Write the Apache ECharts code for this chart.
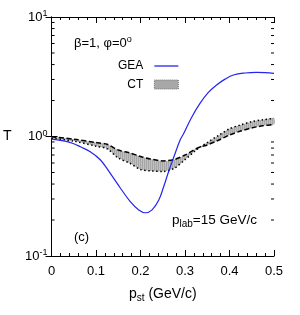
<!DOCTYPE html>
<html><head><meta charset="utf-8">
<script src="https://cdn.jsdelivr.net/npm/echarts@6/dist/echarts.min.js"></script>
<style>html,body{margin:0;padding:0;background:#fff}#c{width:300px;height:315px}</style>
</head><body><div id="c"></div>
<script>
// GEA curve (blue)
const gX = [0, 0.03, 0.05, 0.065, 0.087, 0.11, 0.132, 0.155, 0.177, 0.196, 0.211, 0.226, 0.241, 0.252, 0.263, 0.274, 0.289, 0.297, 0.315, 0.334, 0.352, 0.371, 0.39, 0.409, 0.435, 0.461, 0.48, 0.5];
const gT = [0.95, 0.915, 0.87, 0.82, 0.746, 0.636, 0.492, 0.369, 0.285, 0.243, 0.230, 0.243, 0.294, 0.38, 0.507, 0.66, 0.935, 1.06, 1.45, 1.9, 2.33, 2.7, 3.02, 3.27, 3.4, 3.44, 3.43, 3.38];
// CT band boundaries (dashed and dotted curves)
const ctX = [0, 0.05, 0.1, 0.125, 0.15, 0.175, 0.2, 0.225, 0.25, 0.275, 0.3, 0.325, 0.335, 0.35, 0.375, 0.4, 0.425, 0.45, 0.475, 0.5];
const ctDash = [0.996, 0.95, 0.89, 0.86, 0.77, 0.73, 0.68, 0.645, 0.625, 0.64, 0.70, 0.79, 0.82, 0.85, 0.93, 1.03, 1.11, 1.18, 1.23, 1.26];
const ctDot = [0.966, 0.915, 0.83, 0.79, 0.66, 0.60, 0.53, 0.515, 0.51, 0.54, 0.64, 0.77, 0.82, 0.89, 1.02, 1.16, 1.25, 1.33, 1.38, 1.42];
// axes
const xMin = 0, xMax = 0.5, xStep = 0.1;
const yMin = 0.1, yMax = 10;
const yMinorTicks = [0.2, 0.3, 0.4, 0.5, 0.6, 0.7, 0.8, 0.9, 2, 3, 4, 5, 6, 7, 8, 9];

const FONT = '"Liberation Sans", Arial, Helvetica, sans-serif';
const chart = echarts.init(document.getElementById('c'), null, {renderer: 'canvas'});

// hatched grey pattern
const pc = document.createElement('canvas');
pc.width = 2; pc.height = 2;
const pctx = pc.getContext('2d');
pctx.fillStyle = '#a6a6a6'; pctx.fillRect(0, 0, 1, 2);
pctx.fillStyle = '#c0c0c0'; pctx.fillRect(1, 0, 1, 2);
const hatch = {image: pc, repeat: 'repeat'};

const bandData = ctX.map((x, i) => [x, Math.max(ctDash[i], ctDot[i]), Math.min(ctDash[i], ctDot[i])]);

const axisLineStyle = {color: '#000', width: 1};
const option = {
  animation: false,
  grid: {left: 51, right: 26, top: 17, bottom: 59, containLabel: false},
  legend: {
    orient: 'vertical', right: 116, top: 54, align: 'right',
    itemWidth: 24, itemHeight: 9, itemGap: 4.5,
    textStyle: {fontFamily: FONT, fontSize: 12, color: '#000', lineHeight: 14, padding: [0, 6, 0, 0]},
    data: [
      {name: 'GEA', itemStyle: {opacity: 0}, lineStyle: {width: 1.3}},
      {name: 'CT', icon: 'rect', itemStyle: {color: '#a8a8a8', borderColor: '#777', borderWidth: 1, borderType: 'dotted'}}
    ],
    selectedMode: false
  },
  xAxis: [{
    type: 'value', min: xMin, max: xMax, interval: xStep, position: 'bottom',
    axisLine: {lineStyle: axisLineStyle},
    axisTick: {inside: true, length: 6, lineStyle: {color: '#000'}},
    minorTick: {show: true, splitNumber: 5, length: 3, lineStyle: {color: '#000'}},
    splitLine: {show: false},
    axisLabel: {fontFamily: FONT, fontSize: 13, color: '#000', margin: 9},
    name: '{p|p}{s|st}{p| (GeV/c)}', nameLocation: 'middle', nameGap: 29,
    nameTextStyle: {rich: {
      p: {fontFamily: FONT, fontSize: 14, color: '#000', lineHeight: 18},
      s: {fontFamily: FONT, fontSize: 10, color: '#000', lineHeight: 18, verticalAlign: 'bottom', padding: [6, 0, 0, 0]}
    }}
  }, {
    type: 'value', min: xMin, max: xMax, interval: xStep, position: 'top',
    axisLine: {lineStyle: axisLineStyle},
    axisTick: {inside: true, length: 6, lineStyle: {color: '#000'}},
    minorTick: {show: true, splitNumber: 5, length: 3, lineStyle: {color: '#000'}},
    splitLine: {show: false}, axisLabel: {show: false}
  }],
  yAxis: [{
    type: 'log', logBase: 10, min: yMin, max: yMax, position: 'left',
    axisLine: {lineStyle: axisLineStyle},
    axisTick: {inside: true, length: 6, lineStyle: {color: '#000'}},
    splitLine: {show: false},
    axisLabel: {
      margin: 4,
      formatter: v => '{b|10}{s|' + Math.round(Math.log10(v)) + '}',
      rich: {
        b: {fontFamily: FONT, fontSize: 13, color: '#000', lineHeight: 15},
        s: {fontFamily: FONT, fontSize: 9, color: '#000', lineHeight: 15, verticalAlign: 'top', padding: [0, 0, 7, 0]}
      }
    },
    name: 'T', nameLocation: 'middle', nameGap: 40, nameRotate: 0,
    nameTextStyle: {fontFamily: FONT, fontSize: 14, color: '#000'}
  }, {
    type: 'log', logBase: 10, min: yMin, max: yMax, position: 'right',
    axisLine: {lineStyle: axisLineStyle},
    axisTick: {inside: true, length: 6, lineStyle: {color: '#000'}},
    splitLine: {show: false}, axisLabel: {show: false}
  }],
  graphic: [
    {type: 'text', x: 74, y: 43, style: {
      text: '{a|β=1, φ=0}{s|o}', textVerticalAlign: 'middle',
      rich: {
        a: {fontFamily: FONT, fontSize: 13, fill: '#000', lineHeight: 16},
        s: {fontFamily: FONT, fontSize: 9, fill: '#000', lineHeight: 16, verticalAlign: 'top', padding: [0, 0, 7, 0]}
      }}},
    {type: 'text', x: 74, y: 237, style: {text: '(c)', fontFamily: FONT, fontSize: 13, fill: '#000', textVerticalAlign: 'middle'}},
    {type: 'text', x: 172, y: 220, style: {
      text: '{p|p}{s|lab}{p|=15 GeV/c}', textVerticalAlign: 'middle',
      rich: {
        p: {fontFamily: FONT, fontSize: 13.5, fill: '#000', lineHeight: 18},
        s: {fontFamily: FONT, fontSize: 10, fill: '#000', lineHeight: 18, verticalAlign: 'bottom', padding: [6, 0, 0, 0]}
      }}}
  ],
  series: [
    {
      name: 'CT', type: 'custom', data: bandData, encode: {x: 0, y: 1}, z: 1, clip: true,
      itemStyle: {color: '#a8a8a8'},
      renderItem: function (params, api) {
        if (params.dataIndex !== 0) return null;
        const pts = [];
        for (let i = 0; i < bandData.length; i++) pts.push(api.coord([bandData[i][0], bandData[i][1]]));
        for (let i = bandData.length - 1; i >= 0; i--) pts.push(api.coord([bandData[i][0], bandData[i][2]]));
        return {type: 'polygon', shape: {points: pts, smooth: 0.3}, style: {fill: hatch, stroke: null}};
      }
    },
    {
      name: 'ctDash', type: 'line', data: ctX.map((x, i) => [x, ctDash[i]]), symbol: 'none', smooth: 0.3, z: 3,
      lineStyle: {color: '#000', width: 1.5, type: [5, 2.5]}
    },
    {
      name: 'ctDot', type: 'line', data: ctX.map((x, i) => [x, ctDot[i]]), symbol: 'none', smooth: 0.3, z: 3,
      lineStyle: {color: '#000', width: 1.5, type: [1.5, 2.5]}
    },
    {
      name: 'GEA', type: 'line', data: gX.map((x, i) => [x, gT[i]]), symbol: 'none', smooth: 0.4, z: 4,
      lineStyle: {color: '#2424ee', width: 1.2}, itemStyle: {color: '#2424ee'}
    },
    {
      name: 'yMinor', type: 'custom', data: yMinorTicks.map(v => [xMin, v]), encode: {x: 0, y: 1}, z: 5, clip: false,
      silent: true,
      renderItem: function (params, api) {
        const v = yMinorTicks[params.dataIndex];
        const l = api.coord([xMin, v]);
        const r = api.coord([xMax, v]);
        return {type: 'group', children: [
          {type: 'line', shape: {x1: l[0], y1: l[1], x2: l[0] + 3, y2: l[1]}, style: {stroke: '#000', lineWidth: 1}},
          {type: 'line', shape: {x1: r[0], y1: r[1], x2: r[0] - 3, y2: r[1]}, style: {stroke: '#000', lineWidth: 1}}
        ]};
      }
    }
  ]
};
chart.setOption(option);
</script>
</body></html>
